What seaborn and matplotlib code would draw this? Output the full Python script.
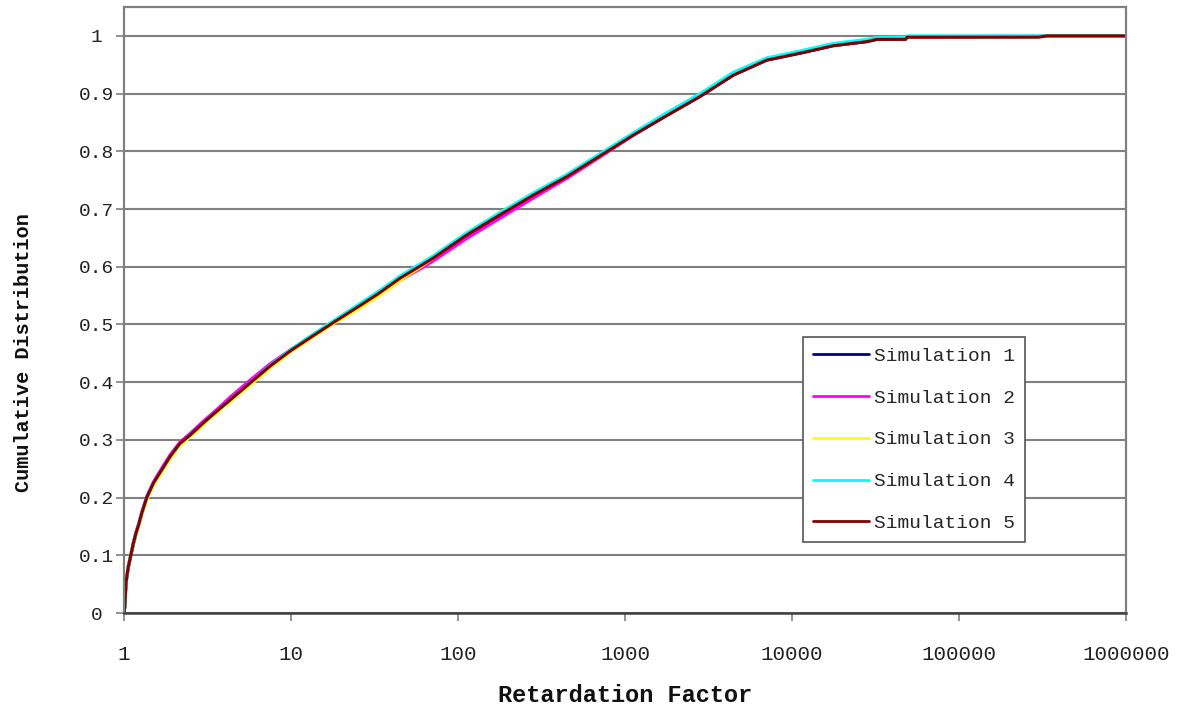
import numpy as np
import pandas as pd
import seaborn as sns
import matplotlib.pyplot as plt
from matplotlib.ticker import FixedLocator, NullLocator

# Retardation factor grid shared by all simulations
retardation = [1.0, 1.01, 1.028, 1.06, 1.097, 1.137, 1.18, 1.22, 1.276, 1.367,
               1.498, 1.68, 1.885, 2.16, 2.48, 2.97, 3.6, 4.31, 5.76, 7.5,
               10, 13.5, 18.3, 26, 33.2, 44.9, 60, 71.1, 112.8, 178.4,
               282.5, 447.7, 708.6, 1121, 1778, 2812, 4454, 7058, 11180, 17670,
               28000, 32300, 48000, 48800, 300000, 336000, 1000000]

# Cumulative distribution for each simulation
sim1 = [0.0, 0.01, 0.052, 0.078, 0.099, 0.119, 0.137, 0.151, 0.171, 0.198,
        0.223, 0.246, 0.270, 0.292, 0.307, 0.328, 0.349, 0.368, 0.399, 0.427,
        0.454, 0.479, 0.504, 0.532, 0.552, 0.579, 0.601, 0.614, 0.653, 0.688,
        0.722, 0.755, 0.791, 0.828, 0.862, 0.895, 0.932, 0.958, 0.970, 0.983,
        0.990, 0.994, 0.995, 0.998, 0.999, 1.0, 1.0]
sim2 = [0.0, 0.012, 0.056, 0.082, 0.102, 0.123, 0.141, 0.154, 0.175, 0.202,
        0.227, 0.251, 0.274, 0.296, 0.311, 0.332, 0.353, 0.374, 0.405, 0.432,
        0.457, 0.481, 0.505, 0.531, 0.550, 0.576, 0.597, 0.610, 0.649, 0.684,
        0.719, 0.753, 0.790, 0.828, 0.863, 0.897, 0.934, 0.960, 0.972, 0.985,
        0.992, 0.996, 0.997, 0.999, 0.9995, 1.0, 1.0]
sim3 = [0.0, 0.011, 0.055, 0.083, 0.103, 0.120, 0.137, 0.150, 0.170, 0.196,
        0.221, 0.244, 0.267, 0.290, 0.305, 0.326, 0.347, 0.366, 0.396, 0.425,
        0.453, 0.478, 0.503, 0.529, 0.549, 0.576, 0.600, 0.615, 0.657, 0.694,
        0.726, 0.757, 0.792, 0.829, 0.864, 0.897, 0.934, 0.960, 0.972, 0.985,
        0.992, 0.995, 0.996, 0.998, 0.999, 1.0, 1.0]
sim4 = [0.0, 0.011, 0.054, 0.081, 0.101, 0.122, 0.140, 0.153, 0.174, 0.200,
        0.225, 0.248, 0.271, 0.293, 0.308, 0.329, 0.350, 0.369, 0.400, 0.429,
        0.457, 0.483, 0.508, 0.537, 0.557, 0.584, 0.606, 0.619, 0.659, 0.694,
        0.728, 0.760, 0.796, 0.832, 0.867, 0.900, 0.937, 0.962, 0.974, 0.987,
        0.994, 0.997, 0.998, 1.0, 1.0, 1.0, 1.0]
sim5 = [0.0, 0.01, 0.054, 0.080, 0.100, 0.121, 0.139, 0.152, 0.173, 0.200,
        0.225, 0.248, 0.271, 0.294, 0.308, 0.329, 0.350, 0.369, 0.400, 0.428,
        0.455, 0.480, 0.505, 0.533, 0.553, 0.580, 0.602, 0.615, 0.655, 0.690,
        0.724, 0.756, 0.792, 0.828, 0.862, 0.895, 0.932, 0.958, 0.970, 0.983,
        0.990, 0.994, 0.994, 0.9977, 0.9977, 1.0, 1.0]

series = [sim1, sim2, sim3, sim4, sim5]
labels = ['Simulation 1', 'Simulation 2', 'Simulation 3', 'Simulation 4', 'Simulation 5']
colors = ['#000080', '#FF00FF', '#FFFF00', '#00FFFF', '#800000']

y_ticks = [0, 0.1, 0.2, 0.3, 0.4, 0.5, 0.6, 0.7, 0.8, 0.9, 1.0]
y_tick_labels = ['0', '0.1', '0.2', '0.3', '0.4', '0.5', '0.6', '0.7', '0.8', '0.9', '1']
x_ticks = [1, 10, 100, 1000, 10000, 100000, 1000000]
x_tick_labels = ['1', '10', '100', '1000', '10000', '100000', '1000000']

sns.set_theme(style='white')
plt.rcParams['font.family'] = ['Liberation Mono', 'DejaVu Sans']

fig = plt.figure(figsize=(11.86, 7.10), dpi=100)
ax = fig.add_axes([0.1046, 0.1366, 0.8448, 0.8535])

for vals, lab, col in zip(series, labels, colors):
    df = pd.DataFrame({'rf': retardation, 'cdf': vals})
    sns.lineplot(data=df, x='rf', y='cdf', color=col, label=lab, lw=2.2,
                 estimator=None, sort=False, ax=ax)

ax.set_xscale('log')
ax.set_xlim(1, 1e6)
ax.set_ylim(0, 1.05)
ax.xaxis.set_major_locator(FixedLocator(x_ticks))
ax.xaxis.set_minor_locator(NullLocator())
ax.set_xticklabels(x_tick_labels)
ax.set_yticks(y_ticks)
ax.set_yticklabels(y_tick_labels)

ax.yaxis.grid(True, color='#808080', lw=1.5)
ax.xaxis.grid(False)
ax.set_axisbelow(True)

for side in ['top', 'right', 'left']:
    ax.spines[side].set_color('#808080')
    ax.spines[side].set_linewidth(1.6)
ax.spines['bottom'].set_color('#404040')
ax.spines['bottom'].set_linewidth(1.8)

ax.tick_params(axis='y', direction='out', length=6, width=1.2, color='#808080',
               pad=14, labelsize=14, labelcolor='#222222', left=True)
ax.tick_params(axis='x', direction='out', length=6, width=1.2, color='#808080',
               pad=17, labelsize=15, labelcolor='#222222', bottom=True)
for t in ax.get_yticklabels():
    t.set_horizontalalignment('center')

ax.set_xlabel('Retardation Factor', fontsize=17, fontweight='bold', color='#111111')
ax.set_ylabel('Cumulative Distribution', fontsize=14.5, fontweight='bold', color='#111111')
ax.xaxis.set_label_coords(0.5, -0.117)
ax.yaxis.set_label_coords(-0.091, 0.43)

leg = ax.legend(loc='upper left', bbox_to_anchor=(0.678, 0.455), frameon=True,
                fancybox=False, edgecolor='#555555', framealpha=1, fontsize=14,
                handlelength=2.85, handletextpad=0.3, labelspacing=1.25,
                borderpad=0.5, borderaxespad=0)
leg.get_frame().set_linewidth(1.2)
for line in leg.get_lines():
    line.set_linewidth(2)

fig.savefig('out.png', dpi=100)
